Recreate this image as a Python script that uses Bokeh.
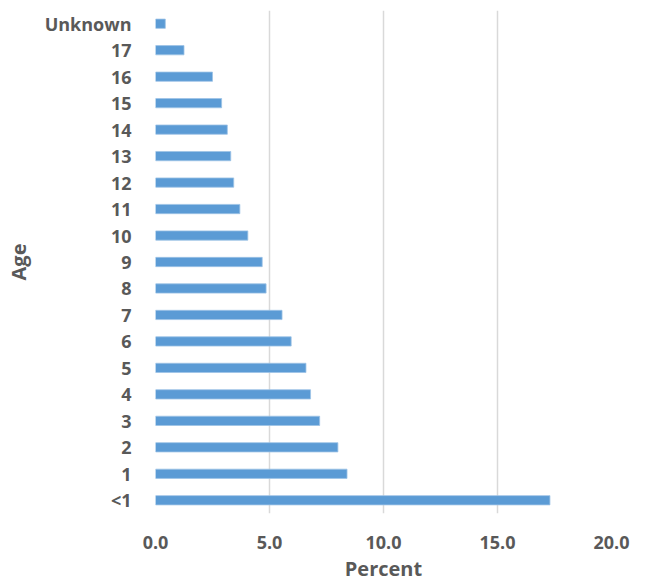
from bokeh.plotting import figure
from bokeh.models import ColumnDataSource, FixedTicker, CustomJSTickFormatter
from bokeh.embed import file_html
from bokeh.resources import INLINE

ages = ["<1", "1", "2", "3", "4", "5", "6", "7", "8", "9", "10",
        "11", "12", "13", "14", "15", "16", "17", "Unknown"]
percent = [17.3, 8.4, 8.0, 7.2, 6.8, 6.6, 5.95, 5.55, 4.85, 4.68, 4.05,
           3.7, 3.43, 3.3, 3.15, 2.9, 2.5, 1.25, 0.43]
x_ticks = [0, 5, 10, 15, 20]

src = ColumnDataSource(dict(age=ages, pct=percent))

p = figure(width=647, height=584, y_range=ages, x_range=(0, 20),
           output_backend="svg", toolbar_location=None,
           min_border_left=155, min_border_right=36,
           min_border_top=10, min_border_bottom=71)
p.y_range.range_padding = 0

p.hbar(y="age", right="pct", left=0, height=0.35, source=src,
       fill_color="#5B9BD5", line_color="#9DC3E6", line_width=0.8)

p.outline_line_color = None
p.ygrid.grid_line_color = None
p.xgrid.ticker = FixedTicker(ticks=x_ticks)
p.xgrid.grid_line_color = "#D9D9D9"
p.xgrid.grid_line_width = 1.5

p.xaxis.ticker = FixedTicker(ticks=x_ticks)
p.xaxis.formatter = CustomJSTickFormatter(code="return tick.toFixed(1);")

for ax in (p.xaxis, p.yaxis):
    ax.axis_line_color = None
    ax.major_tick_line_color = None
    ax.minor_tick_line_color = None
    ax.major_label_text_font = "Open Sans"
    ax.major_label_text_font_style = "bold"
    ax.major_label_text_font_size = "18px"
    ax.major_label_text_color = "#595959"
    ax.axis_label_text_font = "Open Sans"
    ax.axis_label_text_font_style = "bold"
    ax.axis_label_text_font_size = "20px"
    ax.axis_label_text_color = "#595959"

p.xaxis.axis_label = "Percent"
p.yaxis.axis_label = "Age"
p.xaxis.major_label_standoff = 16
p.yaxis.major_label_standoff = 18
p.xaxis.axis_label_standoff = 3
p.yaxis.axis_label_standoff = 10

open("out.html", "w").write(file_html(p, INLINE))
